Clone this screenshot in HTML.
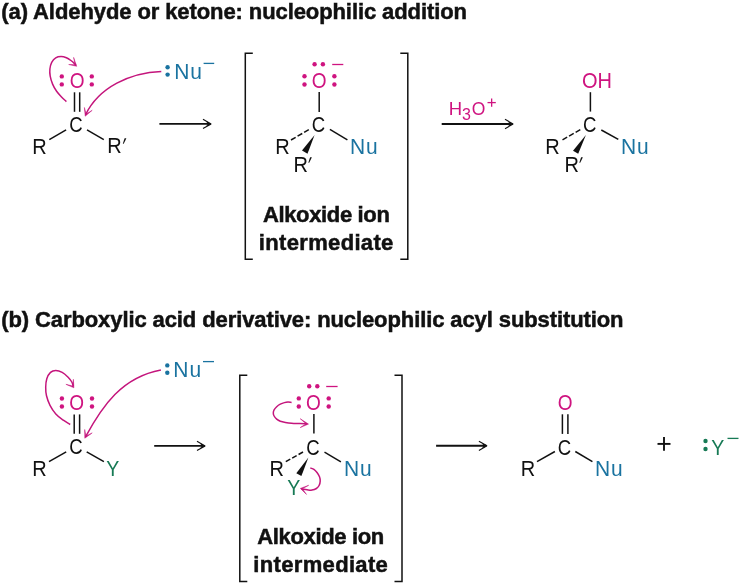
<!DOCTYPE html>
<html><head><meta charset="utf-8"><style>
html,body{margin:0;padding:0;background:#fff;}
svg{display:block;will-change:transform;}
text{font-family:"Liberation Sans",sans-serif;}
</style></head><body>
<svg width="742" height="583" viewBox="0 0 742 583">
<text x="1.30" y="18.80" fill="#111" font-size="22" font-weight="bold" stroke="#111" stroke-width="0.5" textLength="465.7" lengthAdjust="spacing">(a) Aldehyde or ketone: nucleophilic addition</text>
<text x="1.30" y="326.80" fill="#111" font-size="22" font-weight="bold" stroke="#111" stroke-width="0.5" textLength="622.2" lengthAdjust="spacing">(b) Carboxylic acid derivative: nucleophilic acyl substitution</text>
<path d="M66.40 101.60 C64.93 100.23 63.63 99.22 62.00 97.50 C60.37 95.78 58.17 93.53 56.60 91.30 C55.03 89.07 53.67 86.63 52.60 84.10 C51.53 81.57 50.65 78.62 50.20 76.10 C49.75 73.58 49.65 71.30 49.90 69.00 C50.15 66.70 50.73 64.17 51.70 62.30 C52.67 60.43 54.13 58.75 55.70 57.80 C57.27 56.85 59.32 56.60 61.10 56.60 C62.88 56.60 64.77 57.15 66.40 57.80 C68.03 58.45 69.55 59.53 70.90 60.50 C72.25 61.47 73.67 62.80 74.50 63.60 C75.33 64.40 75.43 64.73 75.90 65.30" fill="none" stroke="#c4157c" stroke-width="1.5" />
<path d="M68.7 64.5 L76.7 66.3 L73.6 57.4 L75.03 64.69 Z" fill="#c4157c" stroke="#c4157c" stroke-width="0.5" stroke-linejoin="round"/>
<circle cx="61.8" cy="76.4" r="2.2" fill="#cf1480"/>
<circle cx="61.8" cy="84.4" r="2.2" fill="#cf1480"/>
<text transform="translate(69.67 88.00) scale(0.95 1.06)" fill="#cf1480" font-size="20" font-weight="normal" >O</text>
<circle cx="91.8" cy="76.4" r="2.2" fill="#cf1480"/>
<circle cx="91.8" cy="84.4" r="2.2" fill="#cf1480"/>
<line x1="74.50" y1="92.30" x2="74.50" y2="111.80" stroke="#111" stroke-width="1.5" stroke-linecap="butt"/>
<line x1="79.70" y1="92.30" x2="79.70" y2="111.80" stroke="#111" stroke-width="1.5" stroke-linecap="butt"/>
<text transform="translate(69.17 131.70) scale(0.93 1.06)" fill="#111" font-size="20" font-weight="normal" >C</text>
<line x1="49.30" y1="139.60" x2="66.10" y2="129.80" stroke="#111" stroke-width="1.5" stroke-linecap="butt"/>
<line x1="87.00" y1="129.80" x2="103.80" y2="139.60" stroke="#111" stroke-width="1.5" stroke-linecap="butt"/>
<text transform="translate(32.26 153.80) scale(1.0 1.06)" fill="#111" font-size="20" font-weight="normal" >R</text>
<text transform="translate(107.16 153.00) scale(1.0 1.06)" fill="#111" font-size="20" font-weight="normal" >R</text>
<path d="M124.60 138.30 L126.40 138.30 L123.70 143.70 L122.80 143.70 Z" fill="#111" stroke="none" stroke-width="1.3" />
<circle cx="167.6" cy="67.2" r="2.2" fill="#1a73a0"/>
<circle cx="167.6" cy="74.6" r="2.2" fill="#1a73a0"/>
<text transform="translate(174.18 79.20) scale(1.05 1.06)" fill="#1a73a0" font-size="20" font-weight="normal" letter-spacing="0.9">Nu</text>
<line x1="203.60" y1="63.40" x2="214.20" y2="63.40" stroke="#1a73a0" stroke-width="1.3" stroke-linecap="butt"/>
<path d="M161.3 71.5 C130.5 72.6 98.8 87.2 85.6 114.8" fill="none" stroke="#c4157c" stroke-width="1.5" />
<path d="M84.4 107.5 L85.2 116.2 L92.2 110.3 L86.13 114.01 Z" fill="#c4157c" stroke="#c4157c" stroke-width="0.5" stroke-linejoin="round"/>
<line x1="159.40" y1="123.90" x2="209.60" y2="123.90" stroke="#111" stroke-width="1.9" stroke-linecap="butt"/>
<line x1="203.00" y1="119.25" x2="211.10" y2="123.90" stroke="#111" stroke-width="1.1" stroke-linecap="butt"/>
<line x1="203.00" y1="128.55" x2="211.10" y2="123.90" stroke="#111" stroke-width="1.1" stroke-linecap="butt"/>
<path d="M211.60 123.90 L206.10 121.30 L207.60 123.90 L206.10 126.50 Z" fill="#111" stroke="none" stroke-width="1.3" />
<path d="M252.8 53.2 H245.3 V259.3 H252.8" fill="none" stroke="#111" stroke-width="1.5" />
<path d="M400.3 53.2 H407.8 V259.3 H400.3" fill="none" stroke="#111" stroke-width="1.5" />
<circle cx="314.6" cy="64.3" r="2.2" fill="#cf1480"/>
<circle cx="322.9" cy="64.3" r="2.2" fill="#cf1480"/>
<line x1="332.20" y1="64.50" x2="343.30" y2="64.50" stroke="#cf1480" stroke-width="1.3" stroke-linecap="butt"/>
<circle cx="304.5" cy="76.3" r="2.2" fill="#cf1480"/>
<circle cx="304.5" cy="84.5" r="2.2" fill="#cf1480"/>
<text transform="translate(311.72 88.10) scale(0.95 1.06)" fill="#cf1480" font-size="20" font-weight="normal" >O</text>
<circle cx="334.4" cy="76.3" r="2.2" fill="#cf1480"/>
<circle cx="334.4" cy="84.5" r="2.2" fill="#cf1480"/>
<line x1="319.20" y1="91.90" x2="319.20" y2="111.90" stroke="#111" stroke-width="1.5" stroke-linecap="butt"/>
<text transform="translate(311.77 131.90) scale(0.93 1.06)" fill="#111" font-size="20" font-weight="normal" >C</text>
<line x1="291.00" y1="140.00" x2="295.66" y2="137.30" stroke="#111" stroke-width="1.5" stroke-linecap="butt"/>
<line x1="297.57" y1="136.20" x2="302.23" y2="133.50" stroke="#111" stroke-width="1.5" stroke-linecap="butt"/>
<line x1="304.14" y1="132.40" x2="308.80" y2="129.70" stroke="#111" stroke-width="1.5" stroke-linecap="butt"/>
<path d="M314.6 135.1 L302 150.6 L307.5 153.7 Z" fill="#111" stroke="none" stroke-width="1.3" />
<text transform="translate(275.26 154.10) scale(1.0 1.06)" fill="#111" font-size="20" font-weight="normal" >R</text>
<text transform="translate(293.46 172.30) scale(1.0 1.06)" fill="#111" font-size="20" font-weight="normal" >R</text>
<path d="M310.10 157.30 L311.90 157.30 L309.20 162.70 L308.30 162.70 Z" fill="#111" stroke="none" stroke-width="1.3" />
<line x1="329.90" y1="129.40" x2="347.40" y2="139.80" stroke="#111" stroke-width="1.5" stroke-linecap="butt"/>
<text transform="translate(349.88 154.30) scale(1.05 1.06)" fill="#1a73a0" font-size="20" font-weight="normal" letter-spacing="0.9">Nu</text>
<text x="326.40" y="221.70" fill="#111" font-size="22" font-weight="bold" stroke="#111" stroke-width="0.5" text-anchor="middle" textLength="127" lengthAdjust="spacing">Alkoxide ion</text>
<text x="326.10" y="250.00" fill="#111" font-size="22" font-weight="bold" stroke="#111" stroke-width="0.5" text-anchor="middle" textLength="134.5" lengthAdjust="spacing">intermediate</text>
<line x1="441.70" y1="124.00" x2="511.60" y2="124.00" stroke="#111" stroke-width="1.9" stroke-linecap="butt"/>
<line x1="505.00" y1="119.35" x2="513.10" y2="124.00" stroke="#111" stroke-width="1.1" stroke-linecap="butt"/>
<line x1="505.00" y1="128.65" x2="513.10" y2="124.00" stroke="#111" stroke-width="1.1" stroke-linecap="butt"/>
<path d="M513.60 124.00 L508.10 121.40 L509.60 124.00 L508.10 126.60 Z" fill="#111" stroke="none" stroke-width="1.3" />
<text transform="translate(448.80 114.70) scale(1.0 1.04)" fill="#cf1480" font-size="18.5" font-weight="normal" >H</text>
<text x="461.90" y="120.30" fill="#cf1480" font-size="16" font-weight="normal" >3</text>
<text transform="translate(471.70 114.70) scale(1.0 1.07)" fill="#cf1480" font-size="17.5" font-weight="normal" >O</text>
<line x1="487.50" y1="102.60" x2="495.80" y2="102.60" stroke="#cf1480" stroke-width="1.3" stroke-linecap="butt"/>
<line x1="491.65" y1="98.50" x2="491.65" y2="106.70" stroke="#cf1480" stroke-width="1.3" stroke-linecap="butt"/>
<text transform="translate(581.95 88.20) scale(1.0 1.06)" fill="#cf1480" font-size="20" font-weight="normal" >OH</text>
<line x1="590.40" y1="92.20" x2="590.40" y2="111.60" stroke="#111" stroke-width="1.5" stroke-linecap="butt"/>
<text transform="translate(582.97 132.10) scale(0.93 1.06)" fill="#111" font-size="20" font-weight="normal" >C</text>
<line x1="562.50" y1="139.80" x2="567.16" y2="137.16" stroke="#111" stroke-width="1.5" stroke-linecap="butt"/>
<line x1="569.07" y1="136.07" x2="573.73" y2="133.43" stroke="#111" stroke-width="1.5" stroke-linecap="butt"/>
<line x1="575.64" y1="132.34" x2="580.30" y2="129.70" stroke="#111" stroke-width="1.5" stroke-linecap="butt"/>
<path d="M585.9 135.1 L573 150.7 L578.2 153.7 Z" fill="#111" stroke="none" stroke-width="1.3" />
<text transform="translate(545.26 154.30) scale(1.0 1.06)" fill="#111" font-size="20" font-weight="normal" >R</text>
<text transform="translate(564.56 172.30) scale(1.0 1.06)" fill="#111" font-size="20" font-weight="normal" >R</text>
<path d="M581.10 157.30 L582.90 157.30 L580.20 162.70 L579.30 162.70 Z" fill="#111" stroke="none" stroke-width="1.3" />
<line x1="601.30" y1="130.00" x2="618.30" y2="139.40" stroke="#111" stroke-width="1.5" stroke-linecap="butt"/>
<text transform="translate(620.88 154.30) scale(1.05 1.06)" fill="#1a73a0" font-size="20" font-weight="normal" letter-spacing="0.9">Nu</text>
<path d="M70.20 424.50 C67.90 423.07 65.70 421.97 63.30 420.20 C60.90 418.43 58.02 416.38 55.80 413.90 C53.58 411.42 51.55 408.32 50.00 405.30 C48.45 402.28 47.22 398.80 46.50 395.80 C45.78 392.80 45.65 390.13 45.70 387.30 C45.75 384.47 46.00 381.28 46.80 378.80 C47.60 376.32 49.00 373.78 50.50 372.40 C52.00 371.02 53.85 370.50 55.80 370.50 C57.75 370.50 60.15 371.28 62.20 372.40 C64.25 373.52 66.50 375.60 68.10 377.20 C69.70 378.80 70.93 380.48 71.80 382.00 C72.67 383.52 72.80 384.87 73.30 386.30" fill="none" stroke="#c4157c" stroke-width="1.5" />
<path d="M65.9 384.3 L73.9 387.8 L73.4 379.3 L72.62 386.00 Z" fill="#c4157c" stroke="#c4157c" stroke-width="0.5" stroke-linejoin="round"/>
<circle cx="61.9" cy="398.5" r="2.2" fill="#cf1480"/>
<circle cx="61.9" cy="406.5" r="2.2" fill="#cf1480"/>
<text transform="translate(69.22 409.60) scale(0.95 1.06)" fill="#cf1480" font-size="20" font-weight="normal" >O</text>
<circle cx="92" cy="398.5" r="2.2" fill="#cf1480"/>
<circle cx="92" cy="406.5" r="2.2" fill="#cf1480"/>
<line x1="74.20" y1="414.40" x2="74.20" y2="433.80" stroke="#111" stroke-width="1.5" stroke-linecap="butt"/>
<line x1="79.60" y1="414.40" x2="79.60" y2="433.80" stroke="#111" stroke-width="1.5" stroke-linecap="butt"/>
<text transform="translate(69.27 453.90) scale(0.93 1.06)" fill="#111" font-size="20" font-weight="normal" >C</text>
<line x1="49.00" y1="461.70" x2="66.20" y2="451.90" stroke="#111" stroke-width="1.5" stroke-linecap="butt"/>
<line x1="86.70" y1="451.90" x2="103.90" y2="461.70" stroke="#111" stroke-width="1.5" stroke-linecap="butt"/>
<text transform="translate(32.36 476.10) scale(1.0 1.06)" fill="#111" font-size="20" font-weight="normal" >R</text>
<text transform="translate(106.16 476.30) scale(0.98 1.06)" fill="#177a55" font-size="20" font-weight="normal" >Y</text>
<circle cx="167.3" cy="365.4" r="2.2" fill="#1a73a0"/>
<circle cx="167.3" cy="372.8" r="2.2" fill="#1a73a0"/>
<text transform="translate(173.28 377.40) scale(1.05 1.06)" fill="#1a73a0" font-size="20" font-weight="normal" letter-spacing="0.9">Nu</text>
<line x1="203.00" y1="361.60" x2="214.00" y2="361.60" stroke="#1a73a0" stroke-width="1.3" stroke-linecap="butt"/>
<path d="M160.9 369.9 C121.8 377.2 102.4 405.7 85.5 436.8" fill="none" stroke="#c4157c" stroke-width="1.5" />
<path d="M84.7 429.5 L84.8 438.2 L92.2 432.9 L85.89 436.10 Z" fill="#c4157c" stroke="#c4157c" stroke-width="0.5" stroke-linejoin="round"/>
<line x1="154.20" y1="445.90" x2="203.60" y2="445.90" stroke="#111" stroke-width="1.9" stroke-linecap="butt"/>
<line x1="197.00" y1="441.25" x2="205.10" y2="445.90" stroke="#111" stroke-width="1.1" stroke-linecap="butt"/>
<line x1="197.00" y1="450.55" x2="205.10" y2="445.90" stroke="#111" stroke-width="1.1" stroke-linecap="butt"/>
<path d="M205.60 445.90 L200.10 443.30 L201.60 445.90 L200.10 448.50 Z" fill="#111" stroke="none" stroke-width="1.3" />
<path d="M247.3 375.2 H239.8 V581.4 H247.3" fill="none" stroke="#111" stroke-width="1.5" />
<path d="M394.5 375.2 H402 V581.4 H394.5" fill="none" stroke="#111" stroke-width="1.5" />
<circle cx="309.2" cy="386.3" r="2.2" fill="#cf1480"/>
<circle cx="317.3" cy="386.3" r="2.2" fill="#cf1480"/>
<line x1="326.20" y1="386.50" x2="337.60" y2="386.50" stroke="#cf1480" stroke-width="1.3" stroke-linecap="butt"/>
<circle cx="298.8" cy="398.4" r="2.2" fill="#cf1480"/>
<circle cx="298.8" cy="406.5" r="2.2" fill="#cf1480"/>
<text transform="translate(305.92 409.70) scale(0.95 1.06)" fill="#cf1480" font-size="20" font-weight="normal" >O</text>
<circle cx="328.7" cy="398.4" r="2.2" fill="#cf1480"/>
<circle cx="328.7" cy="406.5" r="2.2" fill="#cf1480"/>
<line x1="313.90" y1="413.90" x2="313.90" y2="433.40" stroke="#111" stroke-width="1.5" stroke-linecap="butt"/>
<path d="M291.60 402.50 C290.40 402.37 289.20 402.08 288.00 402.10 C286.80 402.12 285.68 402.25 284.40 402.60 C283.12 402.95 281.58 403.52 280.30 404.20 C279.02 404.88 277.73 405.77 276.70 406.70 C275.67 407.63 274.67 408.77 274.10 409.80 C273.53 410.83 273.30 411.87 273.30 412.90 C273.30 413.93 273.53 414.97 274.10 416.00 C274.67 417.03 275.67 418.23 276.70 419.10 C277.73 419.97 278.85 420.65 280.30 421.20 C281.75 421.75 283.52 422.07 285.40 422.40 C287.28 422.73 289.17 423.00 291.60 423.20 C294.03 423.40 297.40 423.47 300.00 423.60 C302.60 423.73 304.80 423.87 307.20 424.00" fill="none" stroke="#c4157c" stroke-width="1.5" />
<path d="M300.2 418.7 L308.5 424.1 L300.2 427.6 L306.01 423.81 Z" fill="#c4157c" stroke="#c4157c" stroke-width="0.5" stroke-linejoin="round"/>
<text transform="translate(306.27 455.00) scale(0.93 1.06)" fill="#111" font-size="20" font-weight="normal" >C</text>
<line x1="285.80" y1="461.70" x2="290.26" y2="459.19" stroke="#111" stroke-width="1.5" stroke-linecap="butt"/>
<line x1="292.17" y1="458.11" x2="296.63" y2="455.59" stroke="#111" stroke-width="1.5" stroke-linecap="butt"/>
<line x1="298.54" y1="454.51" x2="303.00" y2="452.00" stroke="#111" stroke-width="1.5" stroke-linecap="butt"/>
<path d="M308.4 457.5 L296.3 473.3 L301.4 476 Z" fill="#111" stroke="none" stroke-width="1.3" />
<text transform="translate(269.46 476.40) scale(1.0 1.06)" fill="#111" font-size="20" font-weight="normal" >R</text>
<text transform="translate(287.16 495.00) scale(0.98 1.06)" fill="#177a55" font-size="20" font-weight="normal" >Y</text>
<path d="M310.30 467.90 C311.50 468.40 312.78 468.63 313.90 469.40 C315.02 470.17 316.07 471.27 317.00 472.50 C317.93 473.73 318.97 475.37 319.50 476.80 C320.03 478.23 320.27 479.65 320.20 481.10 C320.13 482.55 319.73 484.27 319.10 485.50 C318.47 486.73 317.58 487.73 316.40 488.50 C315.22 489.27 313.55 489.88 312.00 490.10 C310.45 490.32 308.53 489.95 307.10 489.80 C305.67 489.65 304.33 489.38 303.40 489.20 C302.47 489.02 302.13 488.87 301.50 488.70" fill="none" stroke="#c4157c" stroke-width="1.5" />
<path d="M308.7 485.3 L300.3 488.4 L306.5 494.4 L302.49 488.83 Z" fill="#c4157c" stroke="#c4157c" stroke-width="0.5" stroke-linejoin="round"/>
<line x1="324.50" y1="452.20" x2="340.90" y2="461.80" stroke="#111" stroke-width="1.5" stroke-linecap="butt"/>
<text transform="translate(343.98 476.40) scale(1.05 1.06)" fill="#1a73a0" font-size="20" font-weight="normal" letter-spacing="0.9">Nu</text>
<text x="320.80" y="543.90" fill="#111" font-size="22" font-weight="bold" stroke="#111" stroke-width="0.5" text-anchor="middle" textLength="127" lengthAdjust="spacing">Alkoxide ion</text>
<text x="320.60" y="571.60" fill="#111" font-size="22" font-weight="bold" stroke="#111" stroke-width="0.5" text-anchor="middle" textLength="134.5" lengthAdjust="spacing">intermediate</text>
<line x1="436.10" y1="445.80" x2="485.50" y2="445.80" stroke="#111" stroke-width="1.9" stroke-linecap="butt"/>
<line x1="478.90" y1="441.15" x2="487.00" y2="445.80" stroke="#111" stroke-width="1.1" stroke-linecap="butt"/>
<line x1="478.90" y1="450.45" x2="487.00" y2="445.80" stroke="#111" stroke-width="1.1" stroke-linecap="butt"/>
<path d="M487.50 445.80 L482.00 443.20 L483.50 445.80 L482.00 448.40 Z" fill="#111" stroke="none" stroke-width="1.3" />
<text transform="translate(557.72 410.10) scale(0.95 1.06)" fill="#cf1480" font-size="20" font-weight="normal" >O</text>
<line x1="562.40" y1="414.30" x2="562.40" y2="433.90" stroke="#111" stroke-width="1.5" stroke-linecap="butt"/>
<line x1="567.90" y1="414.30" x2="567.90" y2="433.90" stroke="#111" stroke-width="1.5" stroke-linecap="butt"/>
<text transform="translate(557.67 455.00) scale(0.93 1.06)" fill="#111" font-size="20" font-weight="normal" >C</text>
<line x1="537.00" y1="461.60" x2="554.90" y2="451.50" stroke="#111" stroke-width="1.5" stroke-linecap="butt"/>
<line x1="575.30" y1="451.50" x2="592.40" y2="461.60" stroke="#111" stroke-width="1.5" stroke-linecap="butt"/>
<text transform="translate(520.86 476.10) scale(1.0 1.06)" fill="#111" font-size="20" font-weight="normal" >R</text>
<text transform="translate(594.98 476.10) scale(1.05 1.06)" fill="#1a73a0" font-size="20" font-weight="normal" letter-spacing="0.9">Nu</text>
<line x1="657.50" y1="443.90" x2="670.50" y2="443.90" stroke="#111" stroke-width="1.9" stroke-linecap="butt"/>
<line x1="664.00" y1="437.10" x2="664.00" y2="450.70" stroke="#111" stroke-width="1.9" stroke-linecap="butt"/>
<circle cx="705.5" cy="441" r="2.2" fill="#177a55"/>
<circle cx="705.5" cy="449" r="2.2" fill="#177a55"/>
<text transform="translate(711.36 455.20) scale(0.98 1.06)" fill="#177a55" font-size="20" font-weight="normal" >Y</text>
<line x1="727.50" y1="438.40" x2="738.50" y2="438.40" stroke="#177a55" stroke-width="1.3" stroke-linecap="butt"/>
</svg>
</body></html>
